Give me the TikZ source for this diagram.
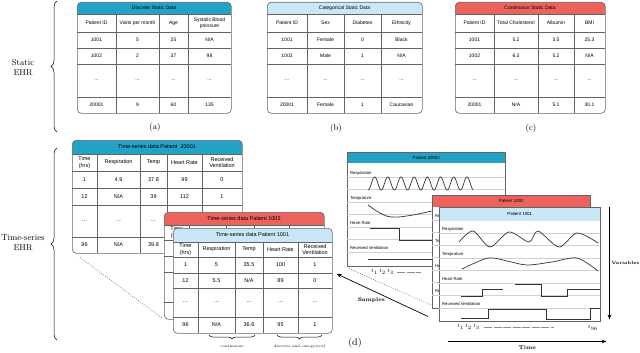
\documentclass[tikz,border=0pt]{standalone}
\usepackage{fontspec}
\newfontfamily\tblfont{Liberation Sans}
\usepackage{tikz}
\usetikzlibrary{arrows.meta,positioning,decorations.pathreplacing}

\definecolor{hdrteal}{RGB}{34,163,198}
\definecolor{hdrblue}{RGB}{201,231,246}
\definecolor{hdrred}{RGB}{238,98,94}
\definecolor{framegray}{RGB}{100,100,100}
\definecolor{lanegray}{RGB}{200,210,222}
\newcommand{\nval}{N/A}
\newcommand{\dotcell}{...}

\begin{document}
\begin{tikzpicture}[x=1pt, y=-1pt,
  tbl/.style 2 args={draw=framegray, line width=0.6pt, rounded corners=4pt, fill=white,
    anchor=north west, inner sep=0pt,
    path picture={\fill[#1, sharp corners] (path picture bounding box.north west)
      rectangle ([yshift=-#2]path picture bounding box.north east);}},
  chart/.style 2 args={draw=framegray, line width=0.5pt, fill=white, anchor=north west, inner sep=0pt,
    path picture={\fill[#1] (path picture bounding box.north west)
      rectangle ([yshift=-#2]path picture bounding box.north east);}},
  tline/.style={draw=framegray, line width=0.4pt},
  lanes/.style={draw=lanegray, line width=0.4pt},
  cell/.style={font={\tblfont\fontsize{5}{5.8}\selectfont}, align=center, inner sep=0pt},
  tcell/.style={font={\tblfont\fontsize{5.5}{6.4}\selectfont}, align=center, inner sep=0pt},
  lane/.style={font={\tblfont\fontsize{4.2}{5}\selectfont}, anchor=west, inner sep=0pt},
  ctitle/.style={font={\tblfont\fontsize{4.4}{5}\selectfont}, inner sep=0pt},
  side/.style={font=\fontsize{8.5}{10}\selectfont, align=center},
  panel/.style={font=\fontsize{8.5}{10}\selectfont},
  brclbl/.style={font=\fontsize{3.6}{4}\selectfont, inner sep=0pt},
  axlbl/.style={font=\bfseries\fontsize{5.5}{6}\selectfont, inner sep=0pt},
  tk/.style={font=\fontsize{5}{6}\selectfont, inner sep=0pt},
  sig/.style={line width=0.7pt, draw=black!80},
  brc/.style={decorate, decoration={brace, amplitude=6pt}, line width=0.5pt},
  sbrc/.style={decorate, decoration={brace, amplitude=4pt}, line width=0.5pt},
  stack/.style={dash pattern=on 0.8pt off 1.6pt, line width=0.5pt, draw=black!70},
  tdash/.style={dash pattern=on 8pt off 1.5pt, line width=0.4pt, draw=black!45},
  arr/.style={-{Stealth[length=5pt]}, line width=0.7pt},
]
\useasboundingbox (0,0) rectangle (640,353);

% Static EHR
\draw[brc] (57,132) -- (57,1);
\node[side] (static) at (23,68) {Static\\EHR};

% (a) discrete
\node[tbl={hdrteal}{12pt}, minimum width=154pt, minimum height=111pt] (sa) at (77,2) {};
\begin{scope}[shift={(77,2)}]
  \foreach \y in {12,30,46,62,95} \draw[tline] (0,\y) -- (154,\y);
  \foreach \x in {39,82,111} \draw[tline] (\x,12) -- (\x,111);
  \node[cell] (sa-title) at (77,6) {Discrete Static Data};
  \foreach \y/\ca/\cb/\cc/\cd [count=\r] in {21/Patient ID/Visits per month/Age/{Systolic Blood\\pressure},
      38/1001/5/25/\nval, 54/1002/2/37/98, 78.5/\dotcell/\dotcell/\dotcell/\dotcell, 103/20001/9/60/135} {
    \node[cell] (sa-\r-1) at (19.5,\y) {\ca};
    \node[cell] (sa-\r-2) at (60.5,\y) {\cb};
    \node[cell] (sa-\r-3) at (96.5,\y) {\cc};
    \node[cell] (sa-\r-4) at (132.5,\y) {\cd};
  }
\end{scope}
\node[panel] (lbla) at (155,127) {(a)};

% (b) categorical
\node[tbl={hdrblue}{12pt}, minimum width=155pt, minimum height=111pt] (sb) at (267,2) {};
\begin{scope}[shift={(267,2)}]
  \foreach \y in {12,30,46,62,95} \draw[tline] (0,\y) -- (155,\y);
  \foreach \x in {40,77,114} \draw[tline] (\x,12) -- (\x,111);
  \node[cell] (sb-title) at (77.5,6) {Categorical Static Data};
  \foreach \y/\ca/\cb/\cc/\cd [count=\r] in {21/Patient ID/Sex/Diabetes/Ethnicity,
      38/1001/Female/0/Black, 54/1002/Male/1/\nval, 78.5/\dotcell/\dotcell/\dotcell/\dotcell, 103/20001/Female/1/Caucasian} {
    \node[cell] (sb-\r-1) at (20,\y) {\ca};
    \node[cell] (sb-\r-2) at (58.5,\y) {\cb};
    \node[cell] (sb-\r-3) at (95.5,\y) {\cc};
    \node[cell] (sb-\r-4) at (134.5,\y) {\cd};
  }
\end{scope}
\node[panel] (lblb) at (336,128) {(b)};

% (c) continuous
\node[tbl={hdrred}{12pt}, minimum width=150pt, minimum height=111pt] (sc) at (455,2) {};
\begin{scope}[shift={(455,2)}]
  \foreach \y in {12,30,46,62,95} \draw[tline] (0,\y) -- (150,\y);
  \foreach \x in {39,83,119} \draw[tline] (\x,12) -- (\x,111);
  \node[cell] (sc-title) at (75,6) {Continuous Static Data};
  \foreach \y/\ca/\cb/\cc/\cd [count=\r] in {21/Patient ID/Total Cholesterol/Albumin/BMI,
      38/1001/5.2/3.5/25.3, 54/1002/6.3/5.2/\nval, 78.5/\dotcell/\dotcell/\dotcell/\dotcell, 103/20001/\nval/5.1/30.1} {
    \node[cell] (sc-\r-1) at (19.5,\y) {\ca};
    \node[cell] (sc-\r-2) at (61,\y) {\cb};
    \node[cell] (sc-\r-3) at (101,\y) {\cc};
    \node[cell] (sc-\r-4) at (134.5,\y) {\cd};
  }
\end{scope}
\node[panel] (lblc) at (531,128) {(c)};

% Time-series EHR
\draw[brc] (57,340) -- (57,148);
\node[side] (tseries) at (23,243) {Time-series\\EHR};

% patient 20001
\node[tbl={hdrteal}{14pt}, minimum width=170pt, minimum height=113pt] (t20001) at (72,140) {};
\begin{scope}[shift={(72,140)}]
  \foreach \y in {14,31,48,65,97} \draw[tline] (0,\y) -- (170,\y);
  \foreach \x in {25,68,95,130} \draw[tline] (\x,14) -- (\x,113);
  \node[tcell] (t20001-title) at (85,7) {Time-series data Patient~ 20001};
  \foreach \y/\ca/\cb/\cc/\cd/\ce [count=\r] in {22.5/{Time\\(hrs)}/Respiration/Temp/Heart Rate/{Received\\Ventilation},
      39.5/1/4.9/37.8/99/0, 56.5/12/\nval/39/112/1, 81/\dotcell/\dotcell/\dotcell/{}/{}, 105/96/\nval/39.8/{}/{}} {
    \node[tcell] (t20001-\r-1) at (12.5,\y) {\ca};
    \node[tcell] (t20001-\r-2) at (46.5,\y) {\cb};
    \node[tcell] (t20001-\r-3) at (81.5,\y) {\cc};
    \node[tcell] (t20001-\r-4) at (112.5,\y) {\cd};
    \node[tcell] (t20001-\r-5) at (150,\y) {\ce};
  }
\end{scope}

% patient 1002
\node[tbl={hdrred}{13pt}, minimum width=160pt, minimum height=107pt] (t1002) at (164,212) {};
\begin{scope}[shift={(164,212)}]
  \foreach \y in {13,28,44,60,90} \draw[tline] (0,\y) -- (160,\y);
  \foreach \x in {25,62,90,125} \draw[tline] (\x,13) -- (\x,107);
  \node[tcell] (t1002-title) at (80,6.5) {Time-series data Patient 1002};
  \node[tcell] (t1002-1) at (12.5,20.5) {Time\\(hrs)};
\end{scope}

% patient 1001
\node[tbl={hdrblue}{14pt}, minimum width=159pt, minimum height=105pt] (t1001) at (173,228) {};
\begin{scope}[shift={(173,228)}]
  \foreach \y in {14,29,45,60,89} \draw[tline] (0,\y) -- (159,\y);
  \foreach \x in {25,62,90,125} \draw[tline] (\x,14) -- (\x,105);
  \node[tcell] (t1001-title) at (79.5,7) {Time-series data Patient 1001};
  \foreach \y/\ca/\cb/\cc/\cd/\ce [count=\r] in {21.5/{Time\\(hrs)}/Respiration/Temp/Heart Rate/{Received\\Ventilation},
      37/1/5/35.5/100/1, 52.5/12/5.5/\nval/89/0, 74.5/\dotcell/\dotcell/\dotcell/\dotcell/\dotcell, 97/96/\nval/36.6/95/1} {
    \node[tcell] (t1001-\r-1) at (12.5,\y) {\ca};
    \node[tcell] (t1001-\r-2) at (43.5,\y) {\cb};
    \node[tcell] (t1001-\r-3) at (76,\y) {\cc};
    \node[tcell] (t1001-\r-4) at (107.5,\y) {\cd};
    \node[tcell] (t1001-\r-5) at (142,\y) {\ce};
  }
\end{scope}

\draw[sbrc] (255,335) -- node[below=10pt, brclbl] (cont) {continuous} (209,335);
\draw[sbrc] (322,335) -- node[below=10pt, brclbl] (disc) {discrete and categorical} (277,335);
\draw[stack] ([shift={(8,4)}]t20001.south west) -- ([shift={(-1,-1)}]t1002.south west);

% chart patient 20002
\node[chart={hdrteal}{11pt}, minimum width=158pt, minimum height=114pt] (c20002) at (347,152) {};
\node[ctitle] (c20002-title) at ([yshift=-5.5pt]c20002.north) {Patient 20002};
\begin{scope}[shift={(347,152)}]
  \foreach \y in {25,37.5,...,100} \draw[lanes] (0,\y) -- (158,\y);
  \foreach \y/\ca [count=\i] in {21/Respiration, 46/Temprature, 71/Heart Rate, 96/Received Ventilation}
    \node[lane] (c20002-\i) at (3,\y) {\ca};
\end{scope}
\draw[sig] plot[domain=0:105, samples=200] ({368+\x},{183.5+6.5*cos(27.27*\x)});
\draw[sig] plot[smooth, tension=0.7] coordinates {(368,205) (380,213) (392,217) (410,215.5) (432,211)};
\draw[sig] (370,228) -- (399,228) -- (399,240) -- (432,240);
\draw[sig] (368,259) -- (432,259);
\node[tk, anchor=west] (t20002) at (371,272) {$t_1\,t_2\,t_3$};
\coordinate (t20002end) at (421,272);
\draw[tdash] ([xshift=3pt]t20002.east) -- (t20002end);

% chart patient 1002
\node[chart={hdrred}{12pt}, minimum width=158pt, minimum height=113pt] (c1002) at (432,195) {};
\node[ctitle] (c1002-title) at ([yshift=-6pt]c1002.north) {Patient 1002};
\begin{scope}[shift={(432,195)}]
  \foreach \y in {25,37.5,...,100} \draw[lanes] (0,\y) -- (158,\y);
  \foreach \y/\ca [count=\i] in {21/Respiration, 46/Temprature, 71/Heart Rate, 96/Received Ventilation}
    \node[lane] (c1002-\i) at (3,\y) {\ca};
\end{scope}
\draw[stack] ([shift={(2,2)}]c20002.south west) -- ([shift={(0,-3)}]c1002.south west);

% chart patient 1001
\node[chart={hdrblue}{14pt}, minimum width=161pt, minimum height=114pt] (c1001) at (439,207) {};
\node[ctitle] (c1001-title) at ([yshift=-7pt]c1001.north) {Patient 1001};
\begin{scope}[shift={(439,207)}]
  \foreach \y in {26,38.5,...,101} \draw[lanes] (0,\y) -- (161,\y);
  \foreach \y/\ca [count=\i] in {22/Respiration, 47/Temprature, 72/Heart Rate, 97/Received Ventilation}
    \node[lane] (c1001-\i) at (3,\y) {\ca};
\end{scope}
\draw[sig] plot[smooth] coordinates {(459,242) (473,231) (490,247) (509,232) (529,242) (538,231) (559,247) (577,233) (598,243)};
\draw[sig] plot[smooth] coordinates {(462,269) (488,258) (507,261) (527,265) (552,262) (577,258) (598,271)};
\draw[sig] (461,296) -- (482,296) -- (482,289) -- (503,289);
\draw[sig] (515,284) -- (541,284) -- (541,296) -- (567,296) -- (567,289) -- (600,289);
\draw[sig] (461,318) -- (488,318) -- (488,309) -- (546,309) -- (546,319) -- (590,319) -- (590,308) -- (600,308);
\node[tk, anchor=west] (t1001a) at (457,327) {$t_1\,t_2\,t_3$};
\node[tk] (t1001b) at (593,328) {$t_{96}$};
\draw[tdash] ([xshift=4pt]t1001a.east) -- ([xshift=-34pt]t1001b.west |- t1001a.east);

% axes
\coordinate (vtop) at ([xshift=9pt]c1001.north east);
\coordinate (vbot) at ([shift={(9,-2)}]c1001.south east);
\draw[arr] (vtop) -- node[right=1.5pt, axlbl, font=\bfseries\fontsize{4.6}{6}\selectfont] (vars) {Variables} (vbot);
\coordinate (tbeg) at ([shift={(9,20)}]c1001.south west);
\coordinate (tfin) at ([shift={(6,20)}]c1001.south east);
\draw[arr] (tbeg) -- node[below=4pt, axlbl] (timelbl) {Time} (tfin);

% sampling
\draw[arr] ([shift={(-4,8)}]c1002.south west) -- node[pos=0.62, below=7pt, axlbl] (smp) {Samples} ([shift={(4,-7)}]t1001.east);
\node[panel, font=\fontsize{10}{12}\selectfont] (lbld) at (355,343) {(d)};
\end{tikzpicture}
\end{document}
